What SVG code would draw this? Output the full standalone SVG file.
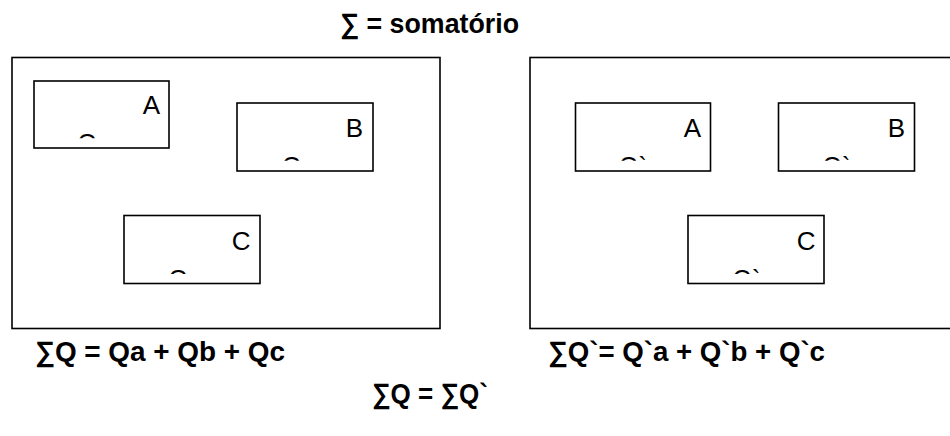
<svg xmlns="http://www.w3.org/2000/svg" width="950" height="436" viewBox="0 0 950 436">
<style>
.frame{fill:#fff;stroke:#000;stroke-width:1.6}
.box{fill:#fff;stroke:#000;stroke-width:1.6}
.lbl{font-family:"Liberation Sans",Arial,sans-serif;font-size:26px;fill:#000;text-anchor:end}
.q{font-family:"Liberation Sans",Arial,sans-serif;font-size:25px;fill:#000}
.f{font-family:"Liberation Sans",Arial,sans-serif;font-size:28px;font-weight:bold;fill:#000}
</style>
<defs>
<clipPath id="cA"><rect x="34" y="81" width="135" height="57.3"/></clipPath>
<clipPath id="cB"><rect x="237" y="103" width="136" height="57.7"/></clipPath>
<clipPath id="cC"><rect x="124" y="215.5" width="136" height="58.5"/></clipPath>
<clipPath id="cA2"><rect x="575.5" y="103" width="135" height="57.7"/></clipPath>
<clipPath id="cB2"><rect x="778.5" y="103" width="136" height="57.7"/></clipPath>
<clipPath id="cC2"><rect x="688" y="215.5" width="136" height="58.5"/></clipPath>
</defs>
<text class="f" x="340" y="33" textLength="179" lengthAdjust="spacingAndGlyphs">∑ = somatório</text>
<g id="left-panel">
<rect class="frame" x="12" y="57.5" width="428" height="271"/>
</g>
<g id="right-panel">
<rect class="frame" x="530" y="57.5" width="440" height="271"/>
</g>
<g id="box-A">
<rect class="box" x="34" y="81" width="135" height="67"/>
<text class="lbl" x="160" y="114">A</text>
<text class="q" x="77.5" y="151.5" clip-path="url(#cA)">Q</text>
</g>
<g id="box-B">
<rect class="box" x="237" y="103" width="136" height="68"/>
<text class="lbl" x="363" y="137.3">B</text>
<text class="q" x="282" y="175" clip-path="url(#cB)">Q</text>
</g>
<g id="box-C">
<rect class="box" x="124" y="215.5" width="136" height="68"/>
<text class="lbl" x="250.5" y="250">C</text>
<text class="q" x="168.5" y="287.5" clip-path="url(#cC)">Q</text>
</g>
<g id="box-A2">
<rect class="box" x="575.5" y="103" width="135" height="68"/>
<text class="lbl" x="701" y="137.3">A</text>
<text class="q" x="619" y="175" clip-path="url(#cA2)">Q`</text>
</g>
<g id="box-B2">
<rect class="box" x="778.5" y="103" width="136" height="68"/>
<text class="lbl" x="905" y="137.3">B</text>
<text class="q" x="822.5" y="175" clip-path="url(#cB2)">Q`</text>
</g>
<g id="box-C2">
<rect class="box" x="688" y="215.5" width="136" height="68"/>
<text class="lbl" x="815.5" y="250">C</text>
<text class="q" x="732.5" y="287.5" clip-path="url(#cC2)">Q`</text>
</g>
<g id="connectors"></g>
<text class="f" x="35" y="361" textLength="250" lengthAdjust="spacingAndGlyphs">∑Q = Qa + Qb + Qc</text>
<text class="f" x="548" y="361" textLength="277" lengthAdjust="spacingAndGlyphs">∑Q`= Q`a + Q`b + Q`c</text>
<text class="f" x="372" y="403" textLength="116" lengthAdjust="spacingAndGlyphs">∑Q = ∑Q`</text>
</svg>
